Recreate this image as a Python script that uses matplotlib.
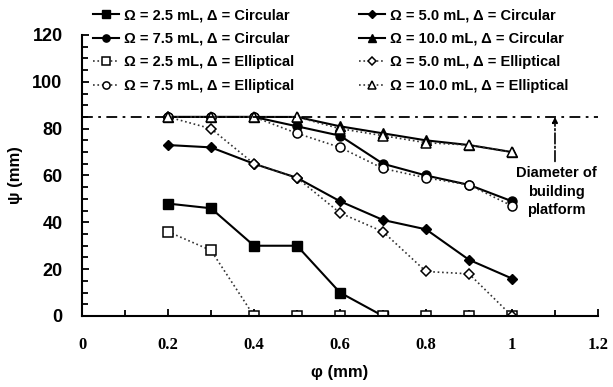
import matplotlib.pyplot as plt
from matplotlib.ticker import MultipleLocator

# data
phi = [0.2, 0.3, 0.4, 0.5, 0.6, 0.7, 0.8, 0.9, 1.0]
phi_c25 = [0.2, 0.3, 0.4, 0.5, 0.6, 0.7]
c25 = [48, 46, 30, 30, 10, 0]
c50 = [73, 72, 65, 59, 49, 41, 37, 24, 16]
c75 = [85, 85, 85, 81, 77, 65, 60, 56, 49]
c100 = [85, 85, 85, 85, 81, 78, 75, 73, 70]
e25 = [36, 28, 0, 0, 0, 0, 0, 0, 0]
e50 = [85, 80, 65, 59, 44, 36, 19, 18, 0]
e75 = [85, 85, 85, 78, 72, 63, 59, 56, 47]
e100 = [85, 85, 85, 85, 80, 77, 74, 73, 70]
platform = 85

plt.rcParams['font.family'] = ['Liberation Sans', 'DejaVu Sans']
plt.rcParams['font.weight'] = 'bold'

fig = plt.figure(figsize=(6.13, 3.87), dpi=100)
ax = fig.add_axes([0.1338, 0.1835, 0.8417, 0.7261])

solid = dict(color='black', lw=1.5, ls='-')
dot = dict(color='#333333', lw=1.2, ls=':')

ax.plot(phi_c25, c25, marker='s', ms=6.5, mfc='black', mec='black',
        label='Ω = 2.5 mL, Δ = Circular', **solid)
ax.plot(phi, c50, marker='D', ms=5, mfc='black', mec='black',
        label='Ω = 5.0 mL, Δ = Circular', **solid)
ax.plot(phi, c75, marker='o', ms=6.5, mfc='black', mec='black',
        label='Ω = 7.5 mL, Δ = Circular', **solid)
ax.plot(phi, c100, marker='^', ms=6.5, mfc='black', mec='black',
        label='Ω = 10.0 mL, Δ = Circular', **solid)
ax.plot(phi, e25, marker='s', ms=6.5, mfc='white', mec='black', mew=1.1,
        label='Ω = 2.5 mL, Δ = Elliptical', **dot)
ax.plot(phi, e50, marker='D', ms=5, mfc='white', mec='black', mew=1.1,
        label='Ω = 5.0 mL, Δ = Elliptical', **dot)
ax.plot(phi, e75, marker='o', ms=6.5, mfc='white', mec='black', mew=1.1,
        label='Ω = 7.5 mL, Δ = Elliptical', **dot)
ax.plot(phi, e100, marker='^', ms=6.5, mfc='white', mec='black', mew=1.1,
        label='Ω = 10.0 mL, Δ = Elliptical', **dot)

# diameter of the building platform
ax.axhline(platform, color='black', lw=1.3, ls='-.', dashes=(6, 3, 1.5, 3))
ax.annotate('', xy=(1.1, platform), xytext=(1.1, 66),
            arrowprops=dict(arrowstyle='-|>', color='black', lw=1.2,
                            ls='-.', mutation_scale=8,
                            shrinkA=0, shrinkB=0))
ax.text(1.103, 53, 'Diameter of\nbuilding\nplatform', ha='center', va='center',
        fontsize=10.5, fontweight='bold', linespacing=1.4)

ax.set_xlim(0, 1.2)
ax.set_ylim(0, 120)
ax.xaxis.set_minor_locator(MultipleLocator(0.1))
ax.yaxis.set_major_locator(MultipleLocator(20))
ax.yaxis.set_minor_locator(MultipleLocator(5))
ax.set_xticks([0, 0.2, 0.4, 0.6, 0.8, 1.0, 1.2])
ax.set_xticklabels(['0', '0.2', '0.4', '0.6', '0.8', '1', '1.2'],
                   family='Liberation Serif', fontweight='bold', fontsize=12)
for t in ax.get_yticklabels():
    t.set_fontsize(13)
    t.set_fontweight('bold')
ax.tick_params(which='both', direction='in', width=1.3)
ax.tick_params(which='major', length=5)
ax.tick_params(which='minor', length=4)
ax.tick_params(axis='x', pad=15)
ax.tick_params(axis='y', pad=14)

for s in ['top', 'right']:
    ax.spines[s].set_visible(False)
for s in ['left', 'bottom']:
    ax.spines[s].set_linewidth(1.5)

ax.set_xlabel('φ (mm)', fontsize=12, fontweight='bold', labelpad=9)
ax.set_ylabel('ψ (mm)', fontsize=12, fontweight='bold', labelpad=7)

# legend rows read left to right, so reorder for column filling
handles, labels = ax.get_legend_handles_labels()
order = [0, 2, 4, 6, 1, 3, 5, 7]
leg = fig.legend([handles[i] for i in order], [labels[i] for i in order],
                 ncol=2, loc='upper left', bbox_to_anchor=(0.135, 1.005),
                 frameon=False, fontsize=10.5, handlelength=1.8,
                 handletextpad=0.35, columnspacing=4.4, labelspacing=0.65,
                 borderpad=0.2, markerscale=0.8)
for t in leg.get_texts():
    t.set_fontweight('bold')

fig.savefig('out.png', dpi=100)
